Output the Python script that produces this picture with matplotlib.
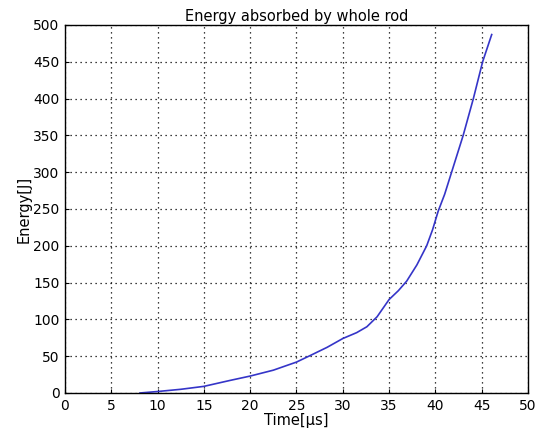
import matplotlib
matplotlib.use('Agg')
from matplotlib import pyplot as plt

# energy absorbed vs time
time_us = [8.1, 10, 12.5, 15, 17.8, 20, 22.5, 25, 26.5, 28.3, 30, 31.5, 32.6, 33.7, 35,
           36, 36.9, 38, 39.06, 39.7, 40.3, 41.0, 41.75, 43.0, 44.1, 45.1, 46.08]
energy_j = [0, 2, 5, 9, 17, 23, 31, 42, 51, 62, 74, 82, 90, 103.5, 127,
            139, 152, 174, 200, 222, 247, 270, 300, 350, 400, 450, 487]
x_ticks = list(range(0, 51, 5))
y_ticks = list(range(0, 501, 50))

fig = plt.figure(figsize=(5.38, 4.44), dpi=100)
ax = fig.add_axes([0.1208, 0.1149, 0.8606, 0.8288])
ax.plot(time_us, energy_j, color='#3535c8', linewidth=1.2)
ax.set_xlim(0, 50)
ax.set_ylim(0, 500)
ax.set_xticks(x_ticks)
ax.set_yticks(y_ticks)
ax.grid(True, color='black', linestyle=(0, (1, 3)), linewidth=0.9)
ax.tick_params(direction='in', length=3, labelsize=10, pad=4)
for s in ax.spines.values():
    s.set_linewidth(1.0)
ax.set_title('Energy absorbed by whole rod', fontsize=10.5, pad=3)
ax.set_xlabel('Time[µs]', fontsize=10.5, labelpad=0)
ax.set_ylabel('Energy[J]', fontsize=10.5, labelpad=1)
fig.savefig('out.png', dpi=100)
